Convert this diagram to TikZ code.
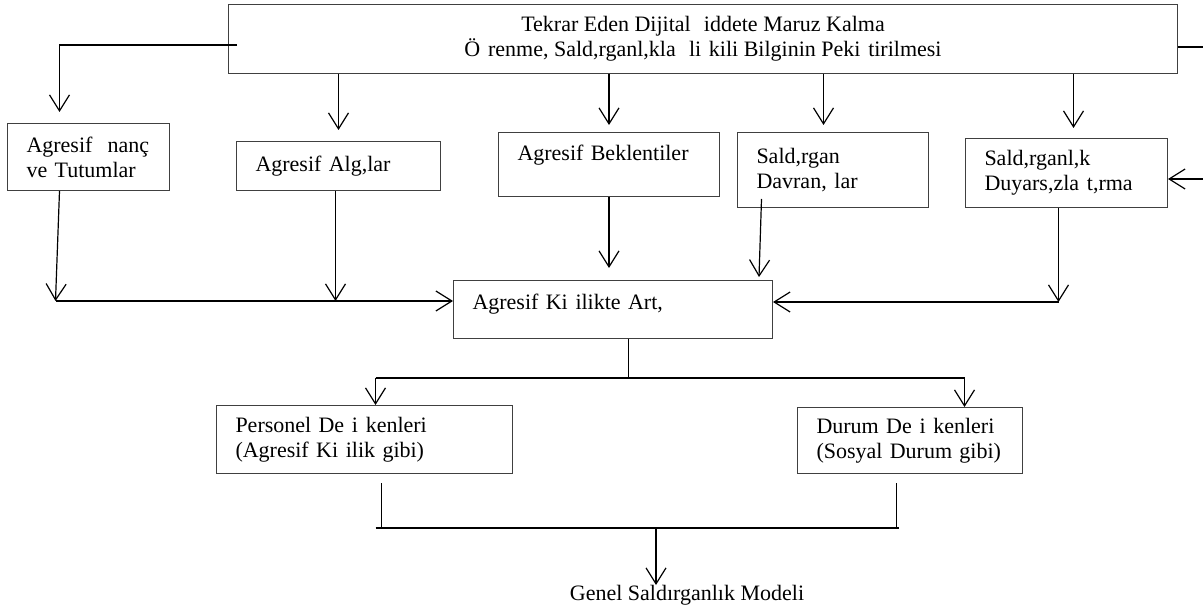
\documentclass[tikz,border=0pt]{standalone}
\usepackage{fontspec}
\setmainfont{Liberation Serif}
\usetikzlibrary{arrows.meta}
\newcommand{\gp}{\hspace{0.35em}}

\begin{document}
\begin{tikzpicture}[
  x=0.5pt, y=-0.5pt,
  font=\fontsize{11}{12.5}\selectfont,
  box/.style={draw=black!75, line width=0.5pt, anchor=north west, align=left, inner xsep=9.5pt, inner ysep=0pt},
  arr/.style={-{Straight Barb[length=8pt,width=10pt]}, line width=0.6pt},
  ln/.style={line width=0.6pt},
  bar/.style={line width=1.4pt},
  barthin/.style={line width=1pt},
]
\useasboundingbox (0,0) rectangle (1203,608);

%------------------- Top: exposure box -------------------
\node (expo) [box, align=center, minimum width=474.5pt, minimum height=34.5pt] at (228,4)
  {Tekrar Eden Dijital \gp{}iddete Maruz Kalma\\Ö\gp{}renme, Sald,rganl,kla \gp{}li\gp{}kili Bilginin Peki\gp{}tirilmesi};

%------------------- Middle row -------------------
\node (inanc) [box, text width=62pt, minimum width=81pt, minimum height=33.5pt] at (7,123) {Agresif \gp{}nanç\\ve Tutumlar};
\node (algi) [box, text width=83pt, minimum width=102pt, minimum height=24.5pt] at (236,141) {Agresif Alg,lar};
\node (bek) [box, text width=91.5pt, minimum width=110.5pt, minimum height=32pt, text height=8pt, text depth=12pt] at (498,132) {Agresif Beklentiler};
\node (sald) [box, text width=76.5pt, minimum width=95.5pt, minimum height=37.5pt] at (737,132) {Sald,rgan\\Davran,\gp{}lar};
\node (duy) [box, text width=82pt, minimum width=101pt, minimum height=34.5pt] at (965,138) {Sald,rganl,k\\Duyars,zla\gp{}t,rma};

% aggressive personality
\node (agr) [box, text width=140.5pt, minimum width=159.5pt, minimum height=29pt, text height=8pt, text depth=8pt] at (453,280) {Agresif Ki\gp{}ilikte Art,};

%------------------- Bottom row -------------------
\node (pers) [box, text width=129pt, minimum width=148pt, minimum height=34pt] at (216,405) {Personel De\gp{}i\gp{}kenleri\\(Agresif Ki\gp{}ilik gibi)};
\node (durum) [box, text width=93.5pt, minimum width=112.5pt, minimum height=33pt] at (797,407) {Durum De\gp{}i\gp{}kenleri\\(Sosyal Durum gibi)};
\node (genel) [anchor=base] at (687,600) {Genel Saldırganlık Modeli};

%------------------- Arrows: top box -> row -------------------
\coordinate (bektip) at ([yshift=3.5pt]bek.north);
\coordinate (saldtip) at ([shift={(-9.5,-7)}]sald.north);
\coordinate (duytip) at ([shift={(7,-10)}]duy.north);
\draw[arr] ([shift={(9,41)}]expo.north west) -| ([shift={(-29,-11)}]inanc.north);
\draw[arr] (expo.south -| algi.north) -- ([yshift=5.5pt]algi.north);
\draw[arr] (expo.south -| bektip) -- (bektip);
\draw[arr] (expo.south -| saldtip) -- (saldtip);
\draw[arr] (expo.south -| duytip) -- (duytip);

% right side (leaving / entering the picture)
\coordinate (rexit) at ([shift={(26,43)}]expo.north east);
\coordinate (rin) at ([shift={(36,-29)}]duy.south east);
\draw[ln] (rexit -| expo.east) -- (rexit);
\draw[arr] (rin) -- (rin -| duy.east);

%------------------- Arrows: row -> aggressive personality -------------------
\coordinate (c1) at ([shift={(-33,110)}]inanc.south);
\coordinate (c2) at ([shift={(-8,94)}]duy.south);
\coordinate (algbot) at ([xshift=-1.5pt]algi.south);
\draw[arr] ([xshift=-14.5pt]inanc.south) -- (c1);
\draw[arr] (c1) -- (c1 -| agr.west);
\draw[arr] (algbot) -- (algbot |- c1);
\draw[arr] (bek.south) -- ([yshift=6pt]agr.north -| bek.south);
\draw[arr] ([shift={(-71.5,-9)}]sald.south) -- ([shift={(-14,-3)}]agr.north east);
\draw[arr] ([xshift=-4pt]duy.south) -- (c2);
\draw[arr] (c2) -- (c2 -| agr.east);

%------------------- Split to person / situation -------------------
\coordinate (lft) at ([shift={(11,-27)}]pers.north);
\coordinate (rgt) at ([shift={(54.5,-29)}]durum.north);
\coordinate (agrbot) at ([xshift=7.75pt]agr.south);
\draw[ln] (agrbot) -- (agrbot |- lft);
\draw[bar] (lft) -- (rgt);
\draw[arr] (lft) -- (lft |- pers.north);
\draw[arr] (rgt) -- (rgt |- durum.north);

%------------------- Join to general model -------------------
\coordinate (bl) at ([shift={(17,54)}]pers.south);
\coordinate (br) at ([shift={(-13.5,54)}]durum.south);
\coordinate (gtop) at ([shift={(-31,-15)}]genel.base);
\draw[ln] ([shift={(17,9)}]pers.south) -- (bl);
\draw[ln] ([shift={(-13.5,9)}]durum.south) -- (br);
\draw[barthin] ([xshift=-3pt]bl) -- ([xshift=1pt]br);
\draw[arr] (gtop |- bl) -- (gtop);

\end{tikzpicture}
\end{document}
